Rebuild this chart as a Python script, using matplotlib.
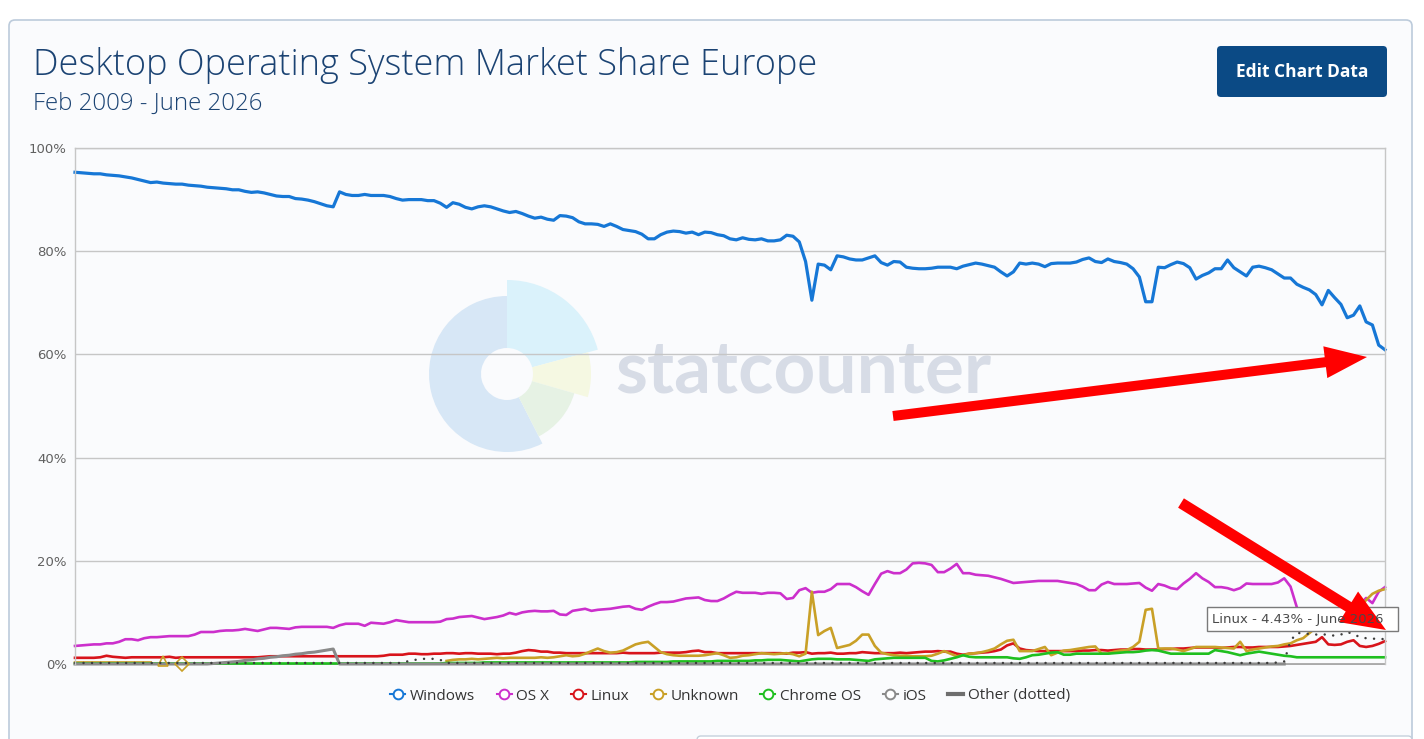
import numpy as np
import matplotlib
matplotlib.use("Agg")
import matplotlib.pyplot as plt
from matplotlib.patches import FancyBboxPatch, Wedge, FancyArrow, Rectangle
from matplotlib.lines import Line2D

nan = np.nan

# monthly market share (%), Feb 2009 .. June 2026, one row per year
windows = [
    95.3, 95.2, 95.1, 95.0, 95.0, 94.8, 94.7, 94.6, 94.4, 94.2, 93.9,
    93.6, 93.3, 93.4, 93.2, 93.1, 93.0, 93.0, 92.8, 92.7, 92.6, 92.4, 92.3,
    92.2, 92.1, 91.9, 91.9, 91.6, 91.4, 91.5, 91.3, 91.0, 90.7, 90.6, 90.6,
    90.2, 90.1, 89.9, 89.6, 89.2, 88.8, 88.6, 91.5, 91.0, 90.8, 90.8, 91.0,
    90.8, 90.8, 90.8, 90.6, 90.2, 89.9, 90.0, 90.0, 90.0, 89.8, 89.8, 89.3,
    88.5, 89.4, 89.1, 88.5, 88.2, 88.6, 88.8, 88.6, 88.2, 87.8, 87.5, 87.7,
    87.3, 86.8, 86.4, 86.6, 86.2, 86.0, 86.9, 86.8, 86.5, 85.7, 85.3, 85.3,
    85.2, 84.8, 85.3, 84.8, 84.2, 84.0, 83.8, 83.3, 82.4, 82.4, 83.2, 83.7,
    83.9, 83.8, 83.5, 83.7, 83.2, 83.7, 83.6, 83.2, 83.0, 82.4, 82.2, 82.6,
    82.3, 82.2, 82.4, 82.0, 82.0, 82.2, 83.1, 82.9, 81.8, 78.0, 70.5, 77.5,
    77.3, 76.4, 79.1, 78.9, 78.5, 78.3, 78.3, 78.7, 79.1, 77.8, 77.3, 78.0,
    77.9, 76.9, 76.7, 76.6, 76.6, 76.7, 76.9, 76.9, 76.9, 76.6, 77.1, 77.4,
    77.7, 77.5, 77.2, 76.9, 76.0, 75.2, 76.0, 77.7, 77.5, 77.7, 77.5, 77.0,
    77.6, 77.7, 77.7, 77.7, 77.9, 78.4, 78.7, 78.0, 77.8, 78.5, 78.0, 77.8,
    77.5, 76.6, 75.0, 70.2, 70.2, 76.9, 76.8, 77.4, 77.9, 77.6, 76.8, 74.6,
    75.3, 75.8, 76.6, 76.6, 78.3, 76.8, 76.0, 75.2, 76.9, 77.1, 76.8, 76.4,
    75.6, 74.8, 74.8, 73.6, 73.0, 72.5, 71.6, 69.6, 72.4, 71.0, 69.7, 67.1,
    67.6, 69.4, 66.3, 65.7, 61.8, 60.9,
]

osx = [
    3.5, 3.6, 3.7, 3.8, 3.8, 4.0, 4.0, 4.3, 4.8, 4.8, 4.6,
    5.0, 5.2, 5.2, 5.3, 5.4, 5.4, 5.4, 5.4, 5.7, 6.2, 6.2, 6.2,
    6.4, 6.5, 6.5, 6.6, 6.8, 6.6, 6.4, 6.7, 7.0, 7.0, 6.9, 6.8,
    7.1, 7.2, 7.2, 7.2, 7.2, 7.2, 7.0, 7.5, 7.8, 7.8, 7.8, 7.4,
    8.0, 7.9, 7.8, 8.1, 8.5, 8.3, 8.1, 8.1, 8.1, 8.1, 8.1, 8.2,
    8.7, 8.8, 9.1, 9.2, 9.3, 9.0, 8.7, 8.9, 9.1, 9.4, 9.9, 9.6,
    10.0, 10.2, 10.3, 10.2, 10.2, 10.3, 9.6, 9.5, 10.3, 10.5, 10.7, 10.3,
    10.5, 10.6, 10.7, 10.9, 11.1, 11.2, 10.7, 10.5, 11.1, 11.6, 12.0, 12.0,
    12.1, 12.4, 12.7, 12.8, 12.9, 12.4, 12.2, 12.2, 12.7, 13.4, 14.0, 13.8,
    13.8, 13.8, 13.6, 13.8, 13.8, 13.7, 12.6, 12.8, 14.3, 14.7, 13.8, 14.0,
    14.0, 14.5, 15.5, 15.5, 15.5, 14.9, 14.1, 13.4, 15.5, 17.5, 18.0, 17.6,
    17.6, 18.3, 19.5, 19.6, 19.5, 19.2, 17.8, 17.8, 18.5, 19.4, 17.6, 17.6,
    17.3, 17.2, 17.1, 16.8, 16.5, 16.1, 15.7, 15.8, 15.9, 16.0, 16.1, 16.1,
    16.1, 16.1, 15.9, 15.7, 15.5, 15.0, 14.3, 14.3, 15.4, 15.9, 15.5, 15.5,
    15.5, 15.6, 15.7, 14.8, 14.2, 15.5, 15.2, 14.7, 14.5, 15.6, 16.5, 17.6,
    16.6, 15.9, 14.9, 14.9, 14.7, 14.3, 14.7, 15.6, 15.5, 15.5, 15.5, 15.5,
    15.8, 16.6, 15.0, 11.0, 9.0, 8.6, 8.8, 8.5, 9.0, 9.5, 11.0, 10.0,
    10.5, 11.5, 12.8, 11.8, 14.0, 14.9,
]

linux = [
    1.2, 1.2, 1.2, 1.2, 1.3, 1.6, 1.4, 1.3, 1.2, 1.3, 1.3,
    1.3, 1.3, 1.3, 1.3, 1.4, 1.2, 1.3, 1.3, 1.3, 1.3, 1.3, 1.3,
    1.3, 1.3, 1.3, 1.3, 1.3, 1.3, 1.3, 1.4, 1.5, 1.5, 1.5, 1.5,
    1.5, 1.5, 1.5, 1.5, 1.5, 1.5, 1.5, 1.5, 1.5, 1.5, 1.5, 1.5,
    1.5, 1.5, 1.6, 1.8, 1.8, 1.8, 2.0, 2.0, 1.9, 1.9, 2.0, 2.0,
    2.1, 2.1, 2.0, 2.1, 2.1, 2.0, 2.0, 2.0, 1.9, 2.0, 2.0, 2.2,
    2.5, 2.7, 2.6, 2.4, 2.4, 2.2, 2.2, 2.1, 2.1, 2.1, 2.1, 2.1,
    2.1, 2.1, 2.1, 2.1, 2.2, 2.1, 2.1, 2.1, 2.1, 2.1, 2.2, 2.2,
    2.2, 2.2, 2.3, 2.5, 2.6, 2.3, 2.3, 2.1, 2.1, 2.1, 2.1, 2.1,
    2.1, 2.1, 2.1, 2.1, 2.1, 2.1, 2.0, 2.2, 2.2, 2.3, 2.0, 2.1,
    2.1, 2.2, 2.0, 2.0, 2.1, 2.1, 2.3, 2.2, 2.1, 2.1, 2.1, 2.1,
    2.2, 2.1, 2.2, 2.3, 2.4, 2.4, 2.5, 2.4, 2.4, 2.0, 1.8, 2.0,
    2.1, 2.2, 2.3, 2.5, 2.8, 3.6, 4.0, 3.0, 2.7, 2.6, 2.5, 2.5,
    2.5, 2.5, 2.5, 2.5, 2.5, 2.6, 2.6, 2.7, 2.7, 2.6, 2.7, 2.8,
    2.8, 2.9, 2.9, 2.8, 2.8, 2.8, 2.9, 2.9, 3.0, 3.0, 3.1, 3.2,
    3.2, 3.2, 3.2, 3.1, 3.2, 3.3, 3.3, 3.2, 3.2, 3.3, 3.3, 3.3,
    3.3, 3.4, 3.5, 3.7, 3.9, 4.1, 4.3, 5.2, 3.8, 3.7, 3.8, 4.3,
    4.6, 3.5, 3.3, 3.5, 3.9, 4.43,
]

unknown = [
    0.3, 0.3, 0.3, 0.3, 0.3, 0.3, 0.3, 0.3, 0.3, 0.3, 0.3,
    0.3, 0.3, nan, 0.5, nan, nan, 0.0, nan, nan, nan, nan, nan,
    nan, nan, nan, nan, nan, nan, nan, nan, nan, nan, nan, nan,
    nan, nan, nan, nan, nan, nan, nan, nan, nan, nan, nan, nan,
    nan, nan, nan, nan, nan, nan, nan, nan, nan, nan, nan, nan,
    0.6, 0.8, 0.9, 0.9, 1.0, 0.9, 1.0, 1.1, 1.2, 1.1, 1.2, 1.2,
    1.2, 1.2, 1.2, 1.3, 1.2, 1.3, 1.5, 1.7, 1.5, 1.6, 2.0, 2.5,
    3.0, 2.5, 2.2, 2.3, 2.6, 3.2, 3.8, 4.1, 4.3, 3.3, 2.3, 1.9,
    1.7, 1.6, 1.6, 1.6, 1.6, 1.7, 1.9, 2.1, 1.7, 1.2, 1.3, 1.6,
    1.7, 1.9, 2.1, 2.0, 1.9, 2.0, 2.1, 1.9, 1.5, 2.0, 14.0, 5.6,
    6.4, 7.0, 3.1, 3.4, 3.7, 4.5, 5.7, 5.7, 3.5, 2.2, 1.9, 1.7,
    1.6, 1.6, 1.5, 1.5, 1.5, 1.6, 2.0, 2.5, 2.0, 1.5, 1.7, 2.0,
    2.1, 2.3, 2.6, 3.0, 3.8, 4.5, 4.7, 2.5, 2.5, 2.5, 2.9, 3.3,
    1.7, 2.2, 2.6, 2.7, 2.9, 3.1, 3.3, 3.4, 2.0, 2.0, 2.4, 2.6,
    2.7, 3.3, 4.3, 10.5, 10.7, 3.0, 3.0, 3.0, 2.8, 2.5, 2.9, 3.3,
    3.3, 3.3, 3.3, 3.2, 3.1, 3.0, 4.3, 2.5, 2.8, 3.0, 3.2, 3.4,
    3.5, 3.8, 4.0, 4.6, 5.0, 6.0, 7.0, 7.8, 8.5, 9.0, 9.6, 10.2,
    10.8, 11.0, 12.4, 13.6, 14.2, 14.5,
]

chrome_os = [
    0.1, 0.1, 0.1, 0.1, 0.1, 0.1, 0.1, 0.1, 0.1, 0.1, 0.1,
    0.1, 0.1, 0.1, 0.1, 0.1, 0.1, 0.1, 0.1, 0.1, 0.1, 0.1, 0.1,
    0.1, 0.1, 0.1, 0.1, 0.1, 0.1, 0.1, 0.1, 0.1, 0.1, 0.1, 0.1,
    0.1, 0.1, 0.1, 0.1, 0.1, 0.1, 0.1, 0.1, 0.1, 0.1, 0.1, 0.1,
    0.1, 0.1, 0.1, 0.1, 0.1, 0.1, 0.1, 0.1, 0.1, 0.1, 0.1, 0.1,
    0.2, 0.2, 0.2, 0.2, 0.2, 0.2, 0.3, 0.3, 0.3, 0.3, 0.3, 0.3,
    0.3, 0.3, 0.3, 0.3, 0.3, 0.3, 0.3, 0.3, 0.3, 0.3, 0.3, 0.3,
    0.3, 0.3, 0.3, 0.3, 0.3, 0.3, 0.4, 0.4, 0.4, 0.4, 0.4, 0.4,
    0.5, 0.5, 0.5, 0.5, 0.5, 0.5, 0.5, 0.6, 0.6, 0.6, 0.6, 0.6,
    0.6, 0.7, 0.7, 0.8, 0.8, 0.8, 0.7, 0.6, 0.5, 0.7, 0.9, 1.0,
    1.0, 1.0, 0.9, 0.9, 0.9, 0.8, 0.7, 0.6, 0.9, 1.0, 1.1, 1.2,
    1.2, 1.2, 1.2, 1.2, 1.2, 0.6, 0.5, 0.7, 1.0, 1.3, 1.7, 1.4,
    1.3, 1.3, 1.3, 1.3, 1.3, 1.3, 1.1, 1.0, 1.3, 1.7, 1.8, 2.0,
    2.2, 2.3, 1.8, 1.8, 2.0, 2.0, 2.0, 2.0, 2.0, 2.0, 2.1, 2.2,
    2.3, 2.3, 2.4, 2.6, 2.7, 2.6, 2.3, 2.0, 2.0, 2.0, 2.0, 2.0,
    2.0, 2.0, 2.7, 2.5, 2.3, 2.0, 1.7, 2.0, 2.2, 2.4, 2.2, 2.0,
    1.8, 1.6, 1.5, 1.3, 1.3, 1.3, 1.3, 1.3, 1.3, 1.3, 1.3, 1.3,
    1.3, 1.3, 1.3, 1.3, 1.3, 1.3,
]

ios = [
    0.0, 0.0, 0.0, 0.0, 0.0, 0.0, 0.0, 0.0, 0.0, 0.0, 0.0,
    0.0, 0.0, 0.0, 0.0, 0.0, 0.0, 0.0, 0.0, 0.0, 0.0, 0.0, 0.1,
    0.2, 0.3, 0.4, 0.5, 0.7, 0.8, 1.0, 1.1, 1.3, 1.4, 1.6, 1.7,
    1.9, 2.0, 2.2, 2.3, 2.5, 2.7, 2.9, 0.0, 0.0, 0.0, 0.0, 0.0,
    0.0, 0.0, 0.0, 0.0, 0.0, 0.0, 0.0, 0.0, 0.0, 0.0, 0.0, 0.0,
    0.0, 0.0, 0.0, 0.0, 0.0, 0.0, 0.0, 0.0, 0.0, 0.0, 0.0, 0.0,
    0.0, 0.0, 0.0, 0.0, 0.0, 0.0, 0.0, 0.0, 0.0, 0.0, 0.0, 0.0,
    0.0, 0.0, 0.0, 0.0, 0.0, 0.0, 0.0, 0.0, 0.0, 0.0, 0.0, 0.0,
    0.0, 0.0, 0.0, 0.0, 0.0, 0.0, 0.0, 0.0, 0.0, 0.0, 0.0, 0.0,
    0.0, 0.0, 0.0, 0.0, 0.0, 0.0, 0.0, 0.0, 0.0, 0.0, 0.0, 0.0,
    0.0, 0.0, 0.0, 0.0, 0.0, 0.0, 0.0, 0.0, 0.0, 0.0, 0.0, 0.0,
    0.0, 0.0, 0.0, 0.0, 0.0, 0.0, 0.0, 0.0, 0.0, 0.0, 0.0, 0.0,
    0.0, 0.0, 0.0, 0.0, 0.0, 0.0, 0.0, 0.0, 0.0, 0.0, 0.0, 0.0,
    0.0, 0.0, 0.0, 0.0, 0.0, 0.0, 0.0, 0.0, 0.0, 0.0, 0.0, 0.0,
    0.0, 0.0, 0.0, 0.0, 0.0, 0.0, 0.0, 0.0, 0.0, 0.0, 0.0, 0.0,
    0.0, 0.0, 0.0, 0.0, 0.0, 0.0, 0.0, 0.0, 0.0, 0.0, 0.0, 0.0,
    0.0, 0.0, nan, nan, nan, nan, nan, nan, nan, nan, nan, nan,
    nan, nan, nan, nan, nan, nan,
]

other = [
    0.2, 0.2, 0.2, 0.2, 0.2, 0.2, 0.2, 0.2, 0.2, 0.2, 0.2,
    0.2, 0.2, 0.2, 0.2, 0.2, 0.2, 0.2, 0.2, 0.2, 0.2, 0.2, 0.2,
    0.2, 0.2, 0.2, 0.2, 0.2, 0.2, 0.2, 0.2, 0.2, 0.2, 0.2, 0.2,
    0.2, 0.2, 0.2, 0.2, 0.2, 0.2, 0.2, 0.2, 0.2, 0.2, 0.2, 0.2,
    0.2, 0.2, 0.2, 0.2, 0.2, 0.2, 0.6, 0.8, 1.0, 1.0, 1.0, 0.8,
    0.2, 0.2, 0.2, 0.2, 0.2, 0.2, 0.2, 0.2, 0.2, 0.2, 0.2, 0.2,
    0.2, 0.2, 0.2, 0.2, 0.2, 0.2, 0.2, 0.2, 0.2, 0.2, 0.2, 0.2,
    0.2, 0.2, 0.2, 0.2, 0.2, 0.2, 0.2, 0.2, 0.2, 0.2, 0.2, 0.2,
    0.2, 0.2, 0.2, 0.2, 0.2, 0.2, 0.2, 0.2, 0.2, 0.2, 0.2, 0.2,
    0.2, 0.2, 0.2, 0.2, 0.2, 0.2, 0.2, 0.2, 0.2, 0.2, 0.2, 0.2,
    0.2, 0.2, 0.2, 0.2, 0.2, 0.2, 0.2, 0.2, 0.2, 0.2, 0.2, 0.2,
    0.2, 0.2, 0.2, 0.2, 0.2, 0.2, 0.2, 0.2, 0.2, 0.2, 0.2, 0.2,
    0.2, 0.2, 0.2, 0.2, 0.2, 0.2, 0.2, 0.2, 0.2, 0.2, 0.2, 0.2,
    0.2, 0.2, 0.2, 0.2, 0.2, 0.2, 0.2, 0.2, 0.2, 0.2, 0.2, 0.2,
    0.2, 0.2, 0.2, 0.2, 0.2, 0.2, 0.2, 0.2, 0.2, 0.2, 0.2, 0.2,
    0.2, 0.2, 0.2, 0.2, 0.2, 0.2, 0.2, 0.2, 0.2, 0.2, 0.2, 0.2,
    0.3, 0.5, 4.5, 6.0, 6.0, 5.8, 5.7, 5.8, 5.6, 5.5, 5.7, 6.2,
    5.8, 5.2, 5.0, 4.9, 4.9, 4.8,
]

series_names = ["Windows", "OS X", "Linux", "Unknown", "Chrome OS", "iOS"]
series_colors = ["#1677d6", "#cc2fcc", "#d8141b", "#c9a027", "#1fbf1f", "#8a8a8a"]
yticks = [0, 20, 40, 60, 80, 100]
tooltip_text = "Linux - 4.43% - June 2026"

W, H = 1424, 739
fig = plt.figure(figsize=(W / 100, H / 100), dpi=100, facecolor="white")

# background layer in pixel coordinates
bg = fig.add_axes([0, 0, 1, 1], zorder=0)
bg.set_xlim(0, W)
bg.set_ylim(H, 0)
bg.axis("off")
bg.add_patch(FancyBboxPatch((9, 20), 1403, 760, boxstyle="round,pad=0,rounding_size=6",
                            facecolor="#fafbfd", edgecolor="#bccbdb", lw=1.2))
bg.add_patch(FancyBboxPatch((697, 736), 715, 30, boxstyle="round,pad=0,rounding_size=4",
                            facecolor="white", edgecolor="#c5d0dc", lw=1))

# statcounter watermark
cx, cy, r_in = 507, 374, 26
for r, t1, t2, col in [(78, 63, 270, "#d7e7f6"), (94, 270, 345, "#daf2fb"),
                       (84, -15, 16, "#f5f8e2"), (70, 16, 63, "#e6f2e4")]:
    bg.add_patch(Wedge((cx, cy), r, t1, t2, width=r - r_in, facecolor=col, edgecolor="none"))
bg.text(615, 372, "statcounter", fontsize=52.5, fontweight="bold", family="Lato",
        color="#d7dce6", va="center", ha="left")

# title and button
bg.text(33, 66, "Desktop Operating System Market Share Europe", fontsize=26,
        family="Open Sans", fontweight="light", color="#1b4373", va="center")
bg.text(33, 104, "Feb 2009 - June 2026", fontsize=17.3, family="Open Sans",
        fontweight="light", color="#1b4373", va="center")
bg.add_patch(FancyBboxPatch((1217, 46), 170, 51, boxstyle="round,pad=0,rounding_size=4",
                            facecolor="#0b4a85", edgecolor="none"))
bg.text(1302, 72, "Edit Chart Data", fontsize=12.5, family="Open Sans",
        fontweight="bold", color="white", ha="center", va="center")

# plot area
left, right, top, bottom = 75, 1385, 148, 664
ax = fig.add_axes([left / W, 1 - bottom / H, (right - left) / W, (bottom - top) / H], zorder=1)
ax.set_facecolor("none")
x = np.arange(len(windows))
data = [windows, osx, linux, unknown, chrome_os, ios]
widths = [2.3, 1.9, 1.9, 1.9, 1.9, 2.2]
for vals, col, lw in zip(data, series_colors, widths):
    ax.plot(x, vals, color=col, lw=lw, solid_joinstyle="round", clip_on=False)

# isolated Unknown points get markers
u = np.array(unknown)
iso = [i for i in range(len(u)) if not np.isnan(u[i])
       and (i == 0 or np.isnan(u[i - 1])) and (i == len(u) - 1 or np.isnan(u[i + 1]))]
for i, m in zip(iso, ["^", "D"]):
    ax.plot(x[i], u[i], marker=m, ms=7, mfc="none", mec=series_colors[3], mew=1.2, clip_on=False)

ax.plot(x, other, color="#3c3c3c", lw=1.8, linestyle=(0, (0.01, 3.4)), dash_capstyle="round",
        clip_on=False)

ax.set_xlim(0, len(windows) - 1)
ax.set_ylim(0, 100)
ax.set_yticks(yticks)
ax.set_yticklabels([f"{t}%" for t in yticks], fontsize=9.5, color="#606060")
ax.set_xticks([])
ax.tick_params(axis="y", length=0, pad=6)
ax.grid(axis="y", color="#c6c6c6", lw=1)
ax.set_axisbelow(True)
for s in ["left", "right", "top"]:
    ax.spines[s].set_color("#c6c6c6")
    ax.spines[s].set_linewidth(1)
ax.spines["bottom"].set_color("#9a9a9a")
ax.spines["bottom"].set_linewidth(1.2)
ax.spines["bottom"].set_zorder(0.5)

# legend
handles = [Line2D([], [], color=c, lw=1.5, marker="o", ms=7, mfc="white", mec=c, mew=1.4)
           for c in series_colors]
handles.append(Line2D([], [], color="#6e6e6e", lw=3))
labels = series_names + ["Other (dotted)"]
leg = fig.legend(handles, labels, loc="center", bbox_to_anchor=(730 / W, 1 - 696 / H),
                 ncol=7, frameon=False, handlelength=1.0, handletextpad=0.3,
                 columnspacing=1.4, prop={"family": "Open Sans", "size": 11})
for t in leg.get_texts():
    t.set_color("#333333")

# overlay: tooltip and red arrows
ov = fig.add_axes([0, 0, 1, 1], zorder=3)
ov.set_xlim(0, W)
ov.set_ylim(H, 0)
ov.axis("off")
ov.patch.set_alpha(0)
ov.add_patch(Rectangle((1207, 607), 191, 24, facecolor="white", edgecolor="#7a7a7a", lw=1))
ov.text(1212, 619.5, tooltip_text, fontsize=9.5, color="#4a4a4a", va="center", ha="left")
ov.add_patch(FancyArrow(893, 416, 1367 - 893, 357 - 416, width=10, head_width=32,
                        head_length=42, length_includes_head=True, color="#ff0000", lw=0))
ov.add_patch(FancyArrow(1181, 503, 1386 - 1181, 630 - 503, width=11, head_width=36,
                        head_length=44, length_includes_head=True, color="#ff0000", lw=0))

fig.savefig("out.png", dpi=100, facecolor=fig.get_facecolor())
